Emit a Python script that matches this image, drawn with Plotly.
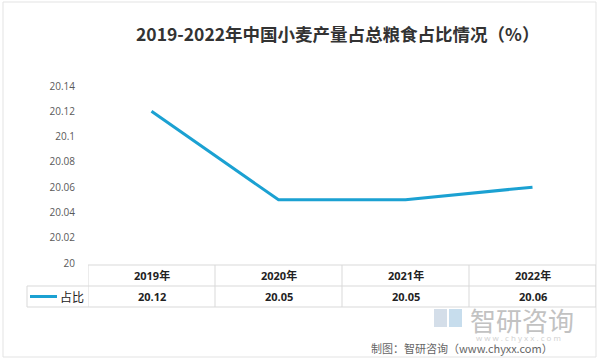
import plotly.graph_objects as go

# ---- data ----
title_text = "2019-2022年中国小麦产量占总粮食占比情况（%）"
categories = ["2019年", "2020年", "2021年", "2022年"]
series_name = "占比"
values = [20.12, 20.05, 20.05, 20.06]
value_labels = ["20.12", "20.05", "20.05", "20.06"]
y_ticks = [20, 20.02, 20.04, 20.06, 20.08, 20.1, 20.12, 20.14]
y_tick_labels = ["20", "20.02", "20.04", "20.06", "20.08", "20.1", "20.12", "20.14"]
source_text = "制图：智研咨询（www.chyxx.com）"
brand_text = "智研咨询"
brand_url = "w w w . c h y x x . c o m"

W, H = 600, 361
ML, MR, MT, MB = 88, 4, 86, 98
PH = H - MT - MB
LINE_COLOR = "#1BA1D2"
GRID = "#D9D9D9"
FONT = "Open Sans, Noto Sans CJK SC, sans-serif"


def py(y):
    """pixel y -> paper y"""
    return (H - MB - y) / PH


def px(x):
    return (x - ML) / (W - ML - MR)


xs = list(range(len(categories)))
fig = go.Figure()
fig.add_trace(go.Scatter(x=xs, y=values, mode="lines", name=series_name,
                         line=dict(color=LINE_COLOR, width=3), showlegend=False,
                         hoverinfo="skip"))

shapes = []
annotations = []

# outer frame
shapes.append(dict(type="rect", xref="paper", yref="paper", x0=px(3), x1=px(596), y0=py(357), y1=py(2),
                   line=dict(color="#E3E3E3", width=1), layer="below"))

# data table grid
top, mid, bot = 265, 286, 307
shapes.append(dict(type="line", xref="paper", yref="paper", x0=px(88), x1=px(596), y0=py(top), y1=py(top),
                   line=dict(color=GRID, width=1)))
for yy in (mid, bot):
    shapes.append(dict(type="line", xref="paper", yref="paper", x0=px(27), x1=px(596), y0=py(yy), y1=py(yy),
                       line=dict(color=GRID, width=1)))
shapes.append(dict(type="line", xref="paper", yref="paper", x0=px(27), x1=px(27), y0=py(mid), y1=py(bot),
                   line=dict(color=GRID, width=1)))
for k in range(len(categories) + 1):
    shapes.append(dict(type="line", xref="x", yref="paper", x0=k - 0.5, x1=k - 0.5, y0=py(top), y1=py(bot),
                       line=dict(color=GRID, width=1)))

# legend key in table
shapes.append(dict(type="line", xref="paper", yref="paper", x0=px(30), x1=px(57), y0=py(296.5), y1=py(296.5),
                   line=dict(color=LINE_COLOR, width=3)))
annotations.append(dict(text=series_name, xref="paper", yref="paper", x=px(58), y=py(296.5),
                        xanchor="left", yanchor="middle", showarrow=False,
                        font=dict(family="Noto Sans CJK SC", size=12, color="#222")))

for i, (c, v) in enumerate(zip(categories, value_labels)):
    annotations.append(dict(text="<b>%s</b>" % c, xref="x", yref="paper", x=i, y=py(275.5),
                            xanchor="center", yanchor="middle", showarrow=False,
                            font=dict(family=FONT, size=11, color="#222")))
    annotations.append(dict(text="<b>%s</b>" % v, xref="x", yref="paper", x=i, y=py(296.5),
                            xanchor="center", yanchor="middle", showarrow=False,
                            font=dict(family=FONT, size=11, color="#222")))

# title
annotations.append(dict(text="<b>%s</b>" % title_text, xref="paper", yref="paper", x=px(337), y=py(33),
                        xanchor="center", yanchor="middle", showarrow=False,
                        font=dict(family="Noto Sans CJK SC, sans-serif", size=17.5, color="#333")))

# watermark
shapes.append(dict(type="rect", xref="paper", yref="paper", x0=px(434), x1=px(447), y0=py(327), y1=py(309),
                   fillcolor="#C9D6E3", line=dict(width=0), opacity=0.8))
shapes.append(dict(type="rect", xref="paper", yref="paper", x0=px(449), x1=px(462), y0=py(327), y1=py(309),
                   fillcolor="#B9D4E8", line=dict(width=0), opacity=0.8))
annotations.append(dict(text=brand_text, xref="paper", yref="paper", x=px(522), y=py(319),
                        xanchor="center", yanchor="middle", showarrow=False,
                        font=dict(family="Noto Sans CJK SC", size=26, color="#C2C2C2")))
annotations.append(dict(text=brand_url, xref="paper", yref="paper", x=px(518), y=py(337),
                        xanchor="center", yanchor="middle", showarrow=False,
                        font=dict(family=FONT, size=8, color="#D0D0D0")))
annotations.append(dict(text=source_text, xref="paper", yref="paper", x=px(462), y=py(347.5),
                        xanchor="center", yanchor="middle", showarrow=False,
                        font=dict(family="Noto Sans CJK SC", size=11, color="#666")))

fig.update_layout(
    width=W, height=H,
    margin=dict(l=ML, r=MR, t=MT, b=MB),
    paper_bgcolor="white", plot_bgcolor="white",
    shapes=shapes, annotations=annotations,
    xaxis=dict(range=[-0.5, len(categories) - 0.5], showticklabels=False, showgrid=False,
               zeroline=False, showline=False, ticks=""),
    yaxis=dict(range=[y_ticks[0], y_ticks[-1]], tickvals=y_ticks, ticktext=y_tick_labels,
               showgrid=False, zeroline=False, showline=False, ticks="outside", ticklen=10,
               tickcolor="rgba(0,0,0,0)",
               tickfont=dict(family=FONT, size=10, color="#595959")),
)

fig.write_html("out.html", config={"displayModeBar": False},
               post_script="document.body.style.margin='0';document.body.style.overflow='hidden';")
